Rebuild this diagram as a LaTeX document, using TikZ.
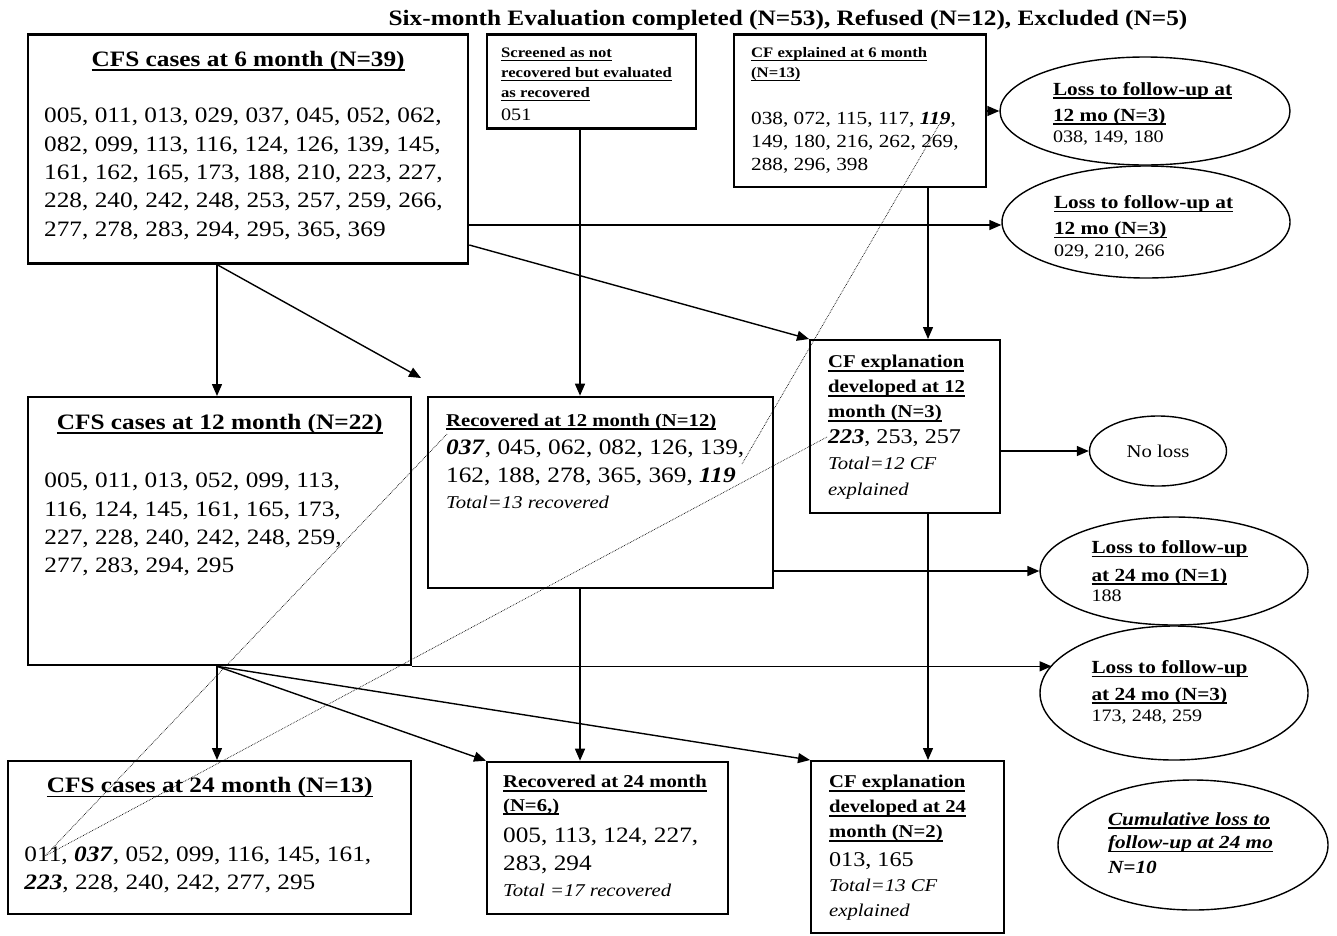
\documentclass[tikz,border=0pt]{standalone}
\usepackage{fontspec}
\setmainfont{Liberation Serif}[FakeStretch=1.15]
\usetikzlibrary{arrows.meta,shapes.geometric}
\newcommand{\myul}[1]{\leavevmode\setbox0=\hbox{#1}\rlap{\rule[-0.21em]{\wd0}{0.09em}}\box0}
\newcommand{\fs}[2]{\fontsize{#1}{#2}\selectfont}
\newcommand{\bi}[1]{\textbf{\textit{#1}}}
\begin{document}
\begin{tikzpicture}[x=1pt,y=-1pt,
  cbox/.style={draw,line width=2.3pt,inner ysep=0pt,anchor=north west},
  ell/.style={draw,ellipse,line width=1.4pt,inner sep=0pt},
  arr/.style={line width=1.4pt,-{Triangle[length=12pt,width=10pt]}},
  dotl/.style={densely dotted,line width=0.7pt}]
\fill[white] (0,0) rectangle (1337,935);
\path[use as bounding box] (0,0) rectangle (1337,935);

\node[anchor=base] (title) at (788,25) {\fs{22}{26}\bfseries Six-month Evaluation completed (N=53), Refused (N=12), Excluded (N=5)};

\node[cbox, inner xsep=16pt] (a) at (27,33.3) {\parbox[t][229pt][t]{408pt}{{\centering\fs{22}{28.3}\bfseries\rule{0pt}{31.7pt}\myul{CFS cases at 6 month (N=39)}\par}\vspace{28.4pt}{\fs{22}{28.3}005, 011, 013, 029, 037, 045, 052, 062,\\082, 099, 113, 116, 124, 126, 139, 145,\\161, 162, 165, 173, 188, 210, 223, 227,\\228, 240, 242, 248, 253, 257, 259, 266,\\277, 278, 283, 294, 295, 365, 369\par}}};

\node[cbox, inner xsep=14pt] (b) at (486,33.3) {\parbox[t][94pt][t]{181pt}{\fs{14.5}{20}\bfseries\rule{0pt}{23.4pt}\myul{Screened as not}\\\myul{recovered but evaluated}\\\myul{as recovered}\par{\fs{17.5}{22.6}\mdseries 051\par}}};

\node[cbox, inner xsep=17pt] (c) at (733,33.3) {\parbox[t][152.4pt][t]{218pt}{\fs{14.5}{20}\bfseries\rule{0pt}{23.4pt}\myul{CF explained at 6 month}\\\myul{(N=13)}\par\vspace{23.6pt}{\fs{18.5}{23}\mdseries 038, 072, 115, 117, \bi{119},\\149, 180, 216, 262, 269,\\288, 296, 398\par}}};

\node[ell, minimum width=290pt, minimum height=108pt] (e1) at (1145,111) {\parbox[t][72pt][t]{184pt}{\fs{18.5}{26}\bfseries\rule{0pt}{20pt}\myul{Loss to follow-up at}\\\myul{12 mo (N=3)}\par{\fs{17.5}{21}\mdseries 038, 149, 180\par}}};

\node[ell, minimum width=288pt, minimum height=112pt] (e2) at (1146,222) {\parbox[t][72pt][t]{184pt}{\fs{18.5}{26}\bfseries\rule{0pt}{22.3pt}\myul{Loss to follow-up at}\\\myul{12 mo (N=3)}\par{\fs{17.5}{22}\mdseries 029, 210, 266\par}}};

\node[cbox, inner xsep=18pt] (d) at (809,339) {\parbox[t][173pt][t]{154pt}{\fs{18}{25}\bfseries\rule{0pt}{27.7pt}\myul{CF explanation}\\\myul{developed at 12}\\\myul{month (N=3)}\par{\fs{21}{26}\mdseries \bi{223}, 253, 257\par}{\fs{18}{25.7}\mdseries\itshape Total=12 CF\\explained\par}}};

\node[ell, minimum width=137pt, minimum height=70pt] (nl) at (1158,451) {\fs{18}{22}No loss};

\node[cbox, inner xsep=18pt] (f) at (427,395.7) {\parbox[t][191.3pt][t]{309pt}{\fs{18}{25}\bfseries\rule{0pt}{29.3pt}\myul{Recovered at 12 month (N=12)}\par{\fs{22}{28.3}\mdseries \bi{037}, 045, 062, 082, 126, 139,\\162, 188, 278, 365, 369, \bi{119}\par}{\fs{18}{25.3}\mdseries\itshape Total=13 recovered\par}}};

\node[cbox, inner xsep=16.3pt] (g) at (27,396) {\parbox[t][268pt][t]{350.4pt}{{\centering\fs{22}{28.3}\bfseries\rule{0pt}{32.3pt}\myul{CFS cases at 12 month (N=22)}\par}\vspace{30.1pt}{\fs{22}{28.3}005, 011, 013, 052, 099, 113,\\116, 124, 145, 161, 165, 173,\\227, 228, 240, 242, 248, 259,\\277, 283, 294, 295\par}}};

\node[ell, minimum width=268pt, minimum height=108pt] (e3) at (1174,571) {\parbox[t][72pt][t]{165pt}{\fs{18.5}{27.7}\bfseries\rule{0pt}{18.3pt}\myul{Loss to follow-up}\\\myul{at 24 mo (N=1)}\par{\fs{17.5}{20.7}\mdseries 188\par}}};

\node[ell, minimum width=268pt, minimum height=134pt] (e4) at (1174,693) {\parbox[t][72pt][t]{165pt}{\fs{18.5}{26.7}\bfseries\rule{0pt}{16.3pt}\myul{Loss to follow-up}\\\myul{at 24 mo (N=3)}\par{\fs{17.5}{21.7}\mdseries 173, 248, 259\par}}};

\node[cbox, inner xsep=16.3pt] (h) at (7,760) {\parbox[t][153pt][t]{370.4pt}{{\centering\fs{22}{28.3}\bfseries\rule{0pt}{31.7pt}\myul{CFS cases at 24 month (N=13)}\par}\vspace{40pt}{\fs{22}{28.3}011, \bi{037}, 052, 099, 116, 145, 161,\\\bi{223}, 228, 240, 242, 277, 295\par}}};

\node[cbox, inner xsep=16pt] (i) at (486,760.7) {\parbox[t][152.3pt][t]{209pt}{\fs{18}{23.3}\bfseries\rule{0pt}{26pt}\myul{Recovered at 24 month}\\\myul{(N=6,)}\par{\fs{22}{31.7}\mdseries 005, 113, 124, 227,\par}{\fs{22}{27.6}\mdseries 283, 294\par}{\fs{18}{25.7}\mdseries\itshape Total =17 recovered\par}}};

\node[cbox, inner xsep=18pt] (j) at (810,760) {\parbox[t][172pt][t]{157pt}{\fs{18}{25}\bfseries\rule{0pt}{26.7pt}\myul{CF explanation}\\\myul{developed at 24}\\\myul{month (N=2)}\par{\fs{21}{28.3}\mdseries 013, 165\par}{\fs{18}{25}\mdseries\itshape Total=13 CF\\explained\par}}};

\node[ell, minimum width=270pt, minimum height=130pt] (e5) at (1193,845) {\parbox[t][72pt][t]{170pt}{\fs{18.5}{23.3}\bfseries\itshape\rule{0pt}{16pt}\myul{Cumulative loss to}\\\myul{follow-up at 24 mo}\par{\fs{18.5}{25}N=10\par}}};

% helper coordinates
\coordinate (gx) at (217,0);
\coordinate (fx) at (580,0);
\coordinate (dx) at (928,0);
\coordinate (ya) at (0,225);
\coordinate (yb) at (0,245);
\coordinate (fend) at (421,378);

\draw[arr] (a.south -| gx) -- (g.north -| gx);
\draw[arr] (a.south -| gx) -- (fend);
\draw[arr] (a.east |- ya) -- (e2.west |- ya);
\draw[arr] (a.east |- yb) -- (d.north west);
\draw[arr] (b.south -| fx) -- (f.north -| fx);
\draw[arr] (c.south -| dx) -- (d.north -| dx);
\draw[arr] (c.east |- e1.west) -- (e1.west);
\draw[arr] (d.east |- nl.west) -- (nl.west);
\draw[arr] (f.east |- e3.west) -- (e3.west);
\draw[arr] (g.south east) -- (g.south east -| e4.167);
\draw[arr] (g.south -| gx) -- (h.north -| gx);
\draw[arr] (g.south -| gx) -- (i.north west);
\draw[arr] (g.south -| gx) -- (j.north west);
\draw[arr] (f.south -| fx) -- (i.north -| fx);
\draw[arr] (d.south -| dx) -- (j.north -| dx);

% dotted tracking lines
\coordinate (p119c) at (943,118);
\coordinate (p119f) at (742,464);
\coordinate (p037f) at (447,434);
\coordinate (p223d) at (827,437);
\coordinate (pH) at (45,856);
\draw[dotl] (p119c) -- (p119f);
\draw[dotl] (p037f) -- (pH);
\draw[dotl] (p223d) -- (pH);
\end{tikzpicture}
\end{document}
